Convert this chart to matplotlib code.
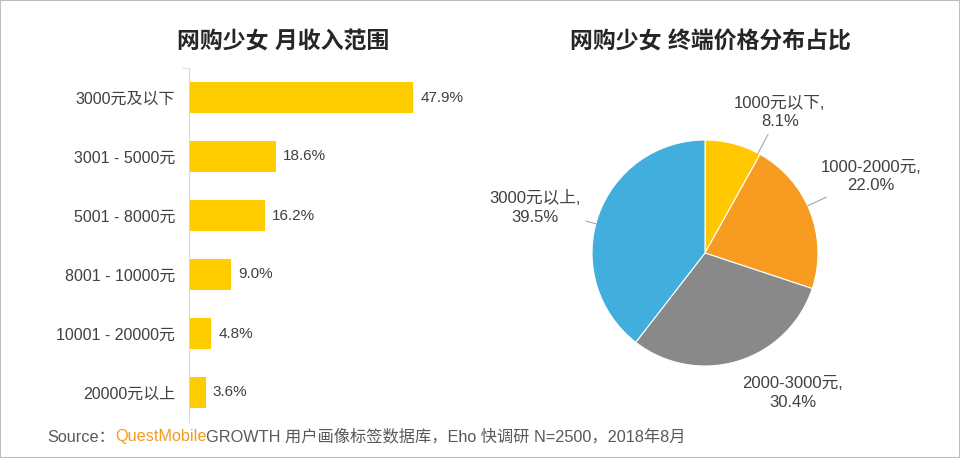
import numpy as np
import matplotlib
matplotlib.use("Agg")
import matplotlib.pyplot as plt
from matplotlib.patches import Rectangle

plt.rcParams["font.family"] = ["Liberation Sans", "Noto Sans CJK SC", "DejaVu Sans"]

# left: monthly income ranges
income_labels = ["3000元及以下", "3001 - 5000元", "5001 - 8000元",
                 "8001 - 10000元", "10001 - 20000元", "20000元以上"]
income_values = [47.9, 18.6, 16.2, 9.0, 4.8, 3.6]

# right: device price ranges
price_labels = ["1000元以下", "1000-2000元", "2000-3000元", "3000元以上"]
price_values = [8.1, 22.0, 30.4, 39.5]
price_colors = ["#FFC800", "#F79C21", "#898989", "#41AEDD"]

TEXT = "#404040"
W, H = 960, 458

fig = plt.figure(figsize=(W / 100, H / 100), dpi=100)
fig.patches.append(Rectangle((0, 0), 1, 1, transform=fig.transFigure,
                             fill=False, edgecolor="#BFBFBF", linewidth=1.5))


def px(x0, y0, x1, y1):
    # pixel box (top-left origin) -> figure fraction rect
    return [x0 / W, 1 - y1 / H, (x1 - x0) / W, (y1 - y0) / H]


# ---- bar chart ----
ax = fig.add_axes(px(189, 68, 470, 422))
y = np.arange(len(income_values))
ax.barh(y, income_values, height=0.51, color="#FFCC00")
ax.set_xlim(0, 60)
ax.set_ylim(len(income_values) - 0.5, -0.5)
ax.set_yticks(y)
ax.set_yticklabels(income_labels, fontsize=11.5, color=TEXT)
ax.tick_params(axis="y", length=0, pad=10)
ax.set_yticks([-0.5], minor=True)
ax.tick_params(axis="y", which="minor", length=5, color="#D9D9D9")
ax.set_xticks([])
for side in ["top", "right", "bottom"]:
    ax.spines[side].set_visible(False)
ax.spines["left"].set_color("#D9D9D9")
for yi, v in zip(y, income_values):
    ax.text(v + 1.5, yi, f"{v:.1f}%", va="center", ha="left",
            fontsize=11, color=TEXT)
fig.text(283 / W, 1 - 42 / H, "网购少女 月收入范围", ha="center", va="center",
         fontsize=16.5, fontweight="bold", color="#262626")

# ---- pie chart ----
cx, cy, r = 705, 253, 113
pax = fig.add_axes(px(cx - r, cy - r, cx + r, cy + r))
wedges, _ = pax.pie(price_values, colors=price_colors, startangle=90,
                    counterclock=False, radius=1,
                    wedgeprops=dict(linewidth=0.8, edgecolor="white"))
pax.set_xlim(-1, 1)
pax.set_ylim(-1, 1)
pax.set_aspect("equal")

# label placement (angle in degrees, distance in radii) and leader line toggle
label_pos = [(62, 1.41, True), (24.7, 1.62, True), (-58, 1.46, False), (165, 1.56, True)]
for name, v, (ang, dist, lead) in zip(price_labels, price_values, label_pos):
    a = np.deg2rad(ang)
    tx, ty = dist * np.cos(a), dist * np.sin(a)
    arrow = dict(arrowstyle="-", color="#A6A6A6", lw=0.8, shrinkA=2, shrinkB=0) if lead else None
    pax.annotate(f"{name},\n{v:.1f}%", xy=(np.cos(a), np.sin(a)), xytext=(tx, ty),
                 ha="center", va="center", fontsize=12, color=TEXT,
                 linespacing=1.3, arrowprops=arrow, annotation_clip=False)
fig.text(710 / W, 1 - 42 / H, "网购少女 终端价格分布占比", ha="center", va="center",
         fontsize=16.5, fontweight="bold", color="#262626")

# ---- source line ----
t1 = fig.text(47 / W, 1 - 437 / H, "Source：", ha="left", va="center",
              fontsize=11.7, color="#595959")
t2 = plt.annotate("QuestMobile", xy=(1, 0.5), xycoords=t1, va="center", ha="left",
                  fontsize=11.7, color="#F59A23")
plt.annotate("GROWTH 用户画像标签数据库，Eho 快调研 N=2500，2018年8月", xy=(1, 0.5),
             xycoords=t2, va="center", ha="left", fontsize=11.7, color="#595959")

fig.savefig("out.png", dpi=100)
